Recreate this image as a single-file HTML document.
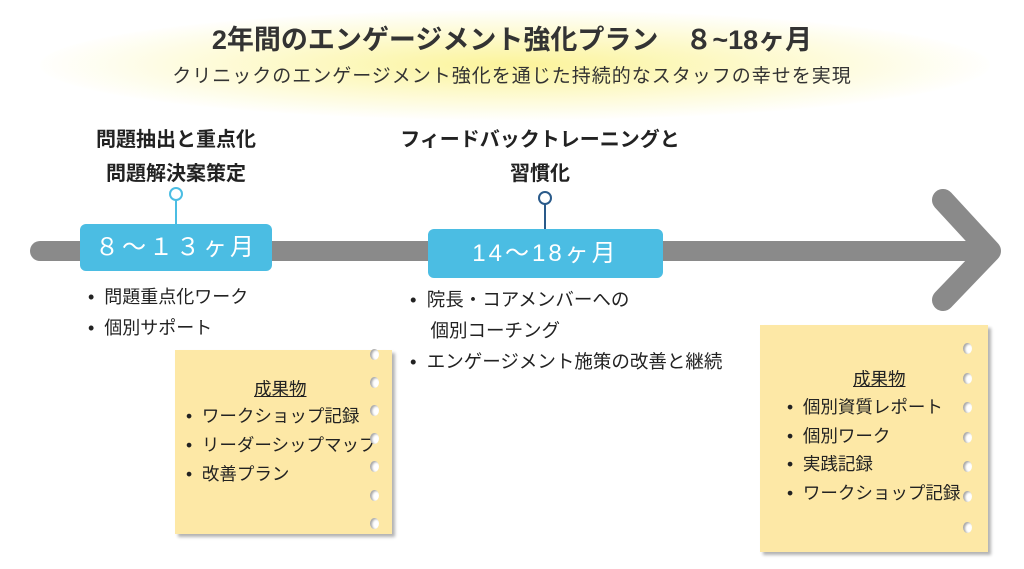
<!DOCTYPE html>
<html><head><meta charset="utf-8"><style>
body{margin:0;width:1024px;height:569px;background:#fff;position:relative;overflow:hidden;font-family:"Liberation Sans","Noto Sans CJK JP",sans-serif;color:#222}
.a{position:absolute;white-space:nowrap}
.glow{position:absolute;left:40px;top:10px;width:950px;height:110px;border-radius:50%;background:radial-gradient(ellipse at center,rgba(250,240,120,.75) 0%,rgba(252,246,170,.45) 45%,rgba(255,255,255,0) 72%)}
.box{position:absolute;background:#4bbde3;border-radius:6px;color:#fff;text-align:center;font-size:24px;letter-spacing:3px}
.note{position:absolute;background:#fde8a6;box-shadow:3px 3px 3px rgba(0,0,0,.3)}
.hole{position:absolute;width:9px;height:11px;border-radius:50%;background:#fff;box-shadow:inset 2px 1px 2px rgba(0,0,0,.35)}
.li{font-size:17.5px}
</style></head><body>
<div class="glow"></div>
<div class="a" style="left:0;width:1024px;top:18px;text-align:center;font-size:27px;font-weight:bold;color:#333">2年間のエンゲージメント強化プラン　８~18ヶ月</div>
<div class="a" style="left:0;width:1024px;top:61px;text-align:center;font-size:19px;color:#333;letter-spacing:1px">クリニックのエンゲージメント強化を通じた持続的なスタッフの幸せを実現</div>
<svg class="a" style="left:0;top:0" width="1024" height="569">
<line x1="40" y1="251" x2="985" y2="251" stroke="#8a8a8a" stroke-width="20" stroke-linecap="round"/>
<polyline points="943,200 990,251 943,300" fill="none" stroke="#8a8a8a" stroke-width="22" stroke-linecap="round" stroke-linejoin="round"/>
<line x1="176" y1="200" x2="176" y2="225" stroke="#4bbde3" stroke-width="2"/>
<circle cx="176" cy="194" r="6" fill="#fff" stroke="#4bbde3" stroke-width="2"/>
<line x1="545" y1="204" x2="545" y2="230" stroke="#2a5a8a" stroke-width="2"/>
<circle cx="545" cy="198" r="6" fill="#fff" stroke="#2a5a8a" stroke-width="2"/>
</svg>
<div class="box" style="left:80px;top:224px;width:192px;height:47px;line-height:47px">８～１３ヶ月</div>
<div class="box" style="left:428px;top:229px;width:235px;height:49px;line-height:49px">14～18ヶ月</div>
<div class="a" style="left:76px;width:200px;text-align:center;top:123px;font-size:20px;font-weight:bold;line-height:34px">問題抽出と重点化<br>問題解決案策定</div>
<div class="a" style="left:360px;width:360px;text-align:center;top:123px;font-size:20px;font-weight:bold;line-height:34px">フィードバックトレーニングと<br>習慣化</div>
<div class="a" style="left:88px;top:282px;font-size:18px;line-height:31px">•&nbsp; 問題重点化ワーク<br>•&nbsp; 個別サポート</div>
<div class="a" style="left:410px;top:284px;font-size:18.5px;line-height:31px">•&nbsp; 院長・コアメンバーへの<br>&nbsp;&nbsp;&nbsp; 個別コーチング<br>•&nbsp; エンゲージメント施策の改善と継続</div>
<div class="note" style="left:175px;top:350px;width:217px;height:184px"></div>
<div class="note" style="left:760px;top:325px;width:228px;height:227px"></div>
<div class="a li" style="left:254px;top:376px;text-decoration:underline">成果物</div>
<div class="a li" style="left:186px;top:402px;line-height:29px">•&nbsp; ワークショップ記録<br>•&nbsp; リーダーシップマップ<br>•&nbsp; 改善プラン</div>
<div class="a li" style="left:853px;top:366px;text-decoration:underline">成果物</div>
<div class="a li" style="left:787px;top:393px;line-height:28.5px">•&nbsp; 個別資質レポート<br>•&nbsp; 個別ワーク<br>•&nbsp; 実践記録<br>•&nbsp; ワークショップ記録</div>
<div class="hole" style="left:370px;top:349px"></div>
<div class="hole" style="left:370px;top:377px"></div>
<div class="hole" style="left:370px;top:405px"></div>
<div class="hole" style="left:370px;top:433px"></div>
<div class="hole" style="left:370px;top:461px"></div>
<div class="hole" style="left:370px;top:490px"></div>
<div class="hole" style="left:370px;top:518px"></div>
<div class="hole" style="left:963px;top:343px"></div>
<div class="hole" style="left:963px;top:373px"></div>
<div class="hole" style="left:963px;top:402px"></div>
<div class="hole" style="left:963px;top:432px"></div>
<div class="hole" style="left:963px;top:461px"></div>
<div class="hole" style="left:963px;top:491px"></div>
<div class="hole" style="left:963px;top:522px"></div>
</body></html>
